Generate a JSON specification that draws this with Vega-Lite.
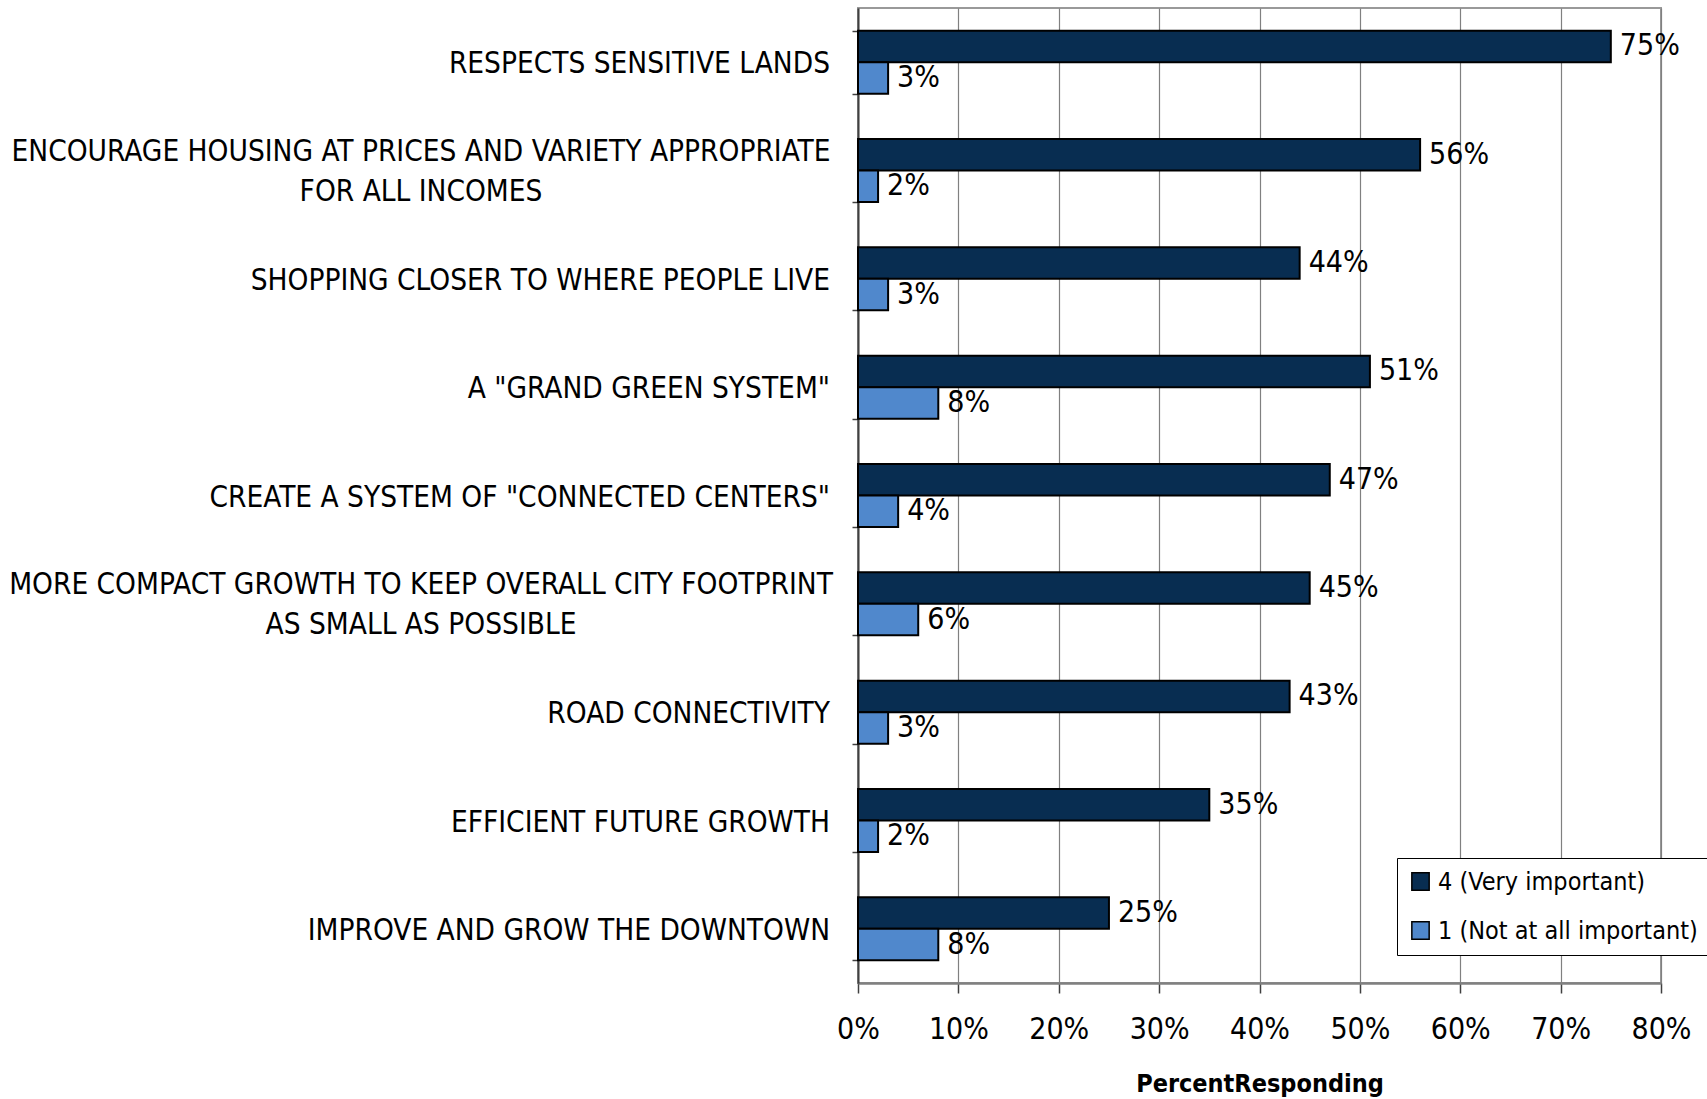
{
  "$schema": "https://vega.github.io/schema/vega-lite/v6.json",
  "autosize": "none",
  "width": 803,
  "height": 975,
  "padding": {"left": 858, "top": 8, "right": 46, "bottom": 116},
  "background": "white",
  "config": {
    "view": {"stroke": "#999999", "strokeWidth": 2},
    "font": "DejaVu Sans Condensed"
  },
  "datasets": {
    "bars": [
      {"cat": "RESPECTS SENSITIVE LANDS", "series": "4 (Very important)", "value": 0.75},
      {"cat": "RESPECTS SENSITIVE LANDS", "series": "1 (Not at all important)", "value": 0.03},
      {"cat": "ENCOURAGE HOUSING AT PRICES AND VARIETY APPROPRIATE|FOR ALL INCOMES", "series": "4 (Very important)", "value": 0.56},
      {"cat": "ENCOURAGE HOUSING AT PRICES AND VARIETY APPROPRIATE|FOR ALL INCOMES", "series": "1 (Not at all important)", "value": 0.02},
      {"cat": "SHOPPING CLOSER TO WHERE PEOPLE LIVE", "series": "4 (Very important)", "value": 0.44},
      {"cat": "SHOPPING CLOSER TO WHERE PEOPLE LIVE", "series": "1 (Not at all important)", "value": 0.03},
      {"cat": "A \"GRAND GREEN SYSTEM\"", "series": "4 (Very important)", "value": 0.51},
      {"cat": "A \"GRAND GREEN SYSTEM\"", "series": "1 (Not at all important)", "value": 0.08},
      {"cat": "CREATE A SYSTEM OF \"CONNECTED CENTERS\"", "series": "4 (Very important)", "value": 0.47},
      {"cat": "CREATE A SYSTEM OF \"CONNECTED CENTERS\"", "series": "1 (Not at all important)", "value": 0.04},
      {"cat": "MORE COMPACT GROWTH TO KEEP OVERALL CITY FOOTPRINT|AS SMALL AS POSSIBLE", "series": "4 (Very important)", "value": 0.45},
      {"cat": "MORE COMPACT GROWTH TO KEEP OVERALL CITY FOOTPRINT|AS SMALL AS POSSIBLE", "series": "1 (Not at all important)", "value": 0.06},
      {"cat": "ROAD CONNECTIVITY", "series": "4 (Very important)", "value": 0.43},
      {"cat": "ROAD CONNECTIVITY", "series": "1 (Not at all important)", "value": 0.03},
      {"cat": "EFFICIENT FUTURE GROWTH", "series": "4 (Very important)", "value": 0.35},
      {"cat": "EFFICIENT FUTURE GROWTH", "series": "1 (Not at all important)", "value": 0.02},
      {"cat": "IMPROVE AND GROW THE DOWNTOWN", "series": "4 (Very important)", "value": 0.25},
      {"cat": "IMPROVE AND GROW THE DOWNTOWN", "series": "1 (Not at all important)", "value": 0.08}
    ],
    "cats": [
      {"cat": "RESPECTS SENSITIVE LANDS", "lines": 1},
      {"cat": "ENCOURAGE HOUSING AT PRICES AND VARIETY APPROPRIATE|FOR ALL INCOMES", "lines": 2},
      {"cat": "SHOPPING CLOSER TO WHERE PEOPLE LIVE", "lines": 1},
      {"cat": "A \"GRAND GREEN SYSTEM\"", "lines": 1},
      {"cat": "CREATE A SYSTEM OF \"CONNECTED CENTERS\"", "lines": 1},
      {"cat": "MORE COMPACT GROWTH TO KEEP OVERALL CITY FOOTPRINT|AS SMALL AS POSSIBLE", "lines": 2},
      {"cat": "ROAD CONNECTIVITY", "lines": 1},
      {"cat": "EFFICIENT FUTURE GROWTH", "lines": 1},
      {"cat": "IMPROVE AND GROW THE DOWNTOWN", "lines": 1}
    ]
  },
  "encoding": {
    "y": {
      "field": "cat",
      "type": "nominal",
      "scale": {
        "domain": [
          "RESPECTS SENSITIVE LANDS",
          "ENCOURAGE HOUSING AT PRICES AND VARIETY APPROPRIATE|FOR ALL INCOMES",
          "SHOPPING CLOSER TO WHERE PEOPLE LIVE",
          "A \"GRAND GREEN SYSTEM\"",
          "CREATE A SYSTEM OF \"CONNECTED CENTERS\"",
          "MORE COMPACT GROWTH TO KEEP OVERALL CITY FOOTPRINT|AS SMALL AS POSSIBLE",
          "ROAD CONNECTIVITY",
          "EFFICIENT FUTURE GROWTH",
          "IMPROVE AND GROW THE DOWNTOWN"
        ],
        "paddingInner": 0.418,
        "paddingOuter": 0.209
      },
      "axis": {
        "title": null,
        "labels": false,
        "tickBand": "extent",
        "ticks": true,
        "tickSize": 6,
        "tickColor": "#404040",
        "tickWidth": 1.5,
        "domainColor": "#404040",
        "domainWidth": 2,
        "grid": false
      }
    }
  },
  "layer": [
    {
      "data": {"name": "bars"},
      "mark": {"type": "bar", "stroke": "black", "strokeWidth": 2},
      "encoding": {
        "x": {
          "field": "value",
          "type": "quantitative",
          "scale": {"domain": [0, 0.8], "nice": false},
          "axis": {
            "values": [0, 0.1, 0.2, 0.3, 0.4, 0.5, 0.6, 0.7, 0.8],
            "format": ".0%",
            "title": "PercentResponding",
            "titleFont": "DejaVu Sans Condensed",
            "titleFontSize": 25,
            "titleFontWeight": "bold",
            "titleColor": "black",
            "titlePadding": 27,
            "labelFontSize": 30,
            "labelColor": "black",
            "labelPadding": 21,
            "labelFlush": false,
            "tickSize": 10,
            "tickColor": "#404040",
            "tickWidth": 1.5,
            "domainColor": "#808080",
            "domainWidth": 2.5,
            "grid": true,
            "gridColor": "#808080",
            "gridWidth": 1.2
          }
        },
        "yOffset": {
          "field": "series",
          "type": "nominal",
          "sort": ["4 (Very important)", "1 (Not at all important)"],
          "scale": {"paddingInner": 0, "paddingOuter": 0}
        },
        "color": {
          "field": "series",
          "type": "nominal",
          "sort": ["4 (Very important)", "1 (Not at all important)"],
          "scale": {
            "domain": ["4 (Very important)", "1 (Not at all important)"],
            "range": ["#082d51", "#5088cc"]
          },
          "legend": {
            "title": null,
            "orient": "none",
            "legendX": 539,
            "legendY": 850,
            "fillColor": "white",
            "strokeColor": "black",
            "padding": 11,
            "symbolType": "square",
            "symbolSize": 300,
            "symbolStrokeColor": "black",
            "symbolStrokeWidth": 1.5,
            "labelFontSize": 25,
            "labelColor": "black",
            "labelLimit": 400,
            "labelOffset": 5,
            "rowPadding": 23
          }
        }
      }
    },
    {
      "data": {"name": "bars"},
      "mark": {"type": "text", "align": "left", "baseline": "middle", "dx": 9, "fontSize": 30, "color": "black"},
      "encoding": {
        "x": {"field": "value", "type": "quantitative"},
        "yOffset": {
          "field": "series",
          "type": "nominal",
          "sort": ["4 (Very important)", "1 (Not at all important)"]
        },
        "text": {"field": "value", "type": "quantitative", "format": ".0%"}
      }
    },
    {
      "data": {"name": "cats"},
      "transform": [{"filter": "datum.lines == 1"}],
      "mark": {"type": "text", "align": "right", "baseline": "middle", "dx": -28, "dy": 2, "fontSize": 29.5, "color": "black", "lineBreak": "|"},
      "encoding": {
        "x": {"datum": 0, "type": "quantitative"},
        "text": {"field": "cat", "type": "nominal"}
      }
    },
    {
      "data": {"name": "cats"},
      "transform": [{"filter": "datum.lines == 2"}],
      "mark": {"type": "text", "align": "center", "baseline": "middle", "dx": -437, "dy": -19, "fontSize": 29.5, "lineHeight": 40, "color": "black", "lineBreak": "|"},
      "encoding": {
        "x": {"datum": 0, "type": "quantitative"},
        "text": {"field": "cat", "type": "nominal"}
      }
    }
  ]
}
